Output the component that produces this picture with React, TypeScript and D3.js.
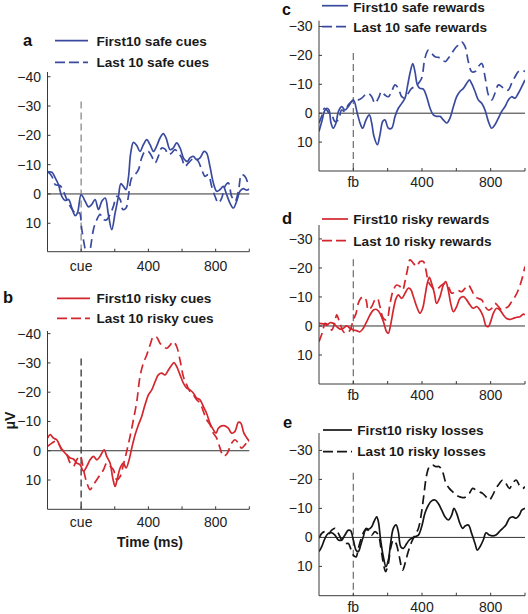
import React from "react";
import * as d3 from "d3";

type Pt = [number, number];

// ---------- data (time in ms, amplitude in µV) ----------
const firstSafeCues: Pt[] = [[-200,-7.5],[-174,-7.4],[-154,-5.5],[-135,-3.2],[-115,0.8],[-95,2.2],[-75,1.9],[-55,4.8],[-36,7.4],[-22,6.5],[0,0.2],[24,2.5],[44,4.4],[63,3.6],[83,1.9],[103,5.3],[123,2.5],[143,1.4],[162,7],[182,12.2],[202,6.5],[222,0.8],[236,-3.5],[251,-2.6],[267,-1.5],[281,-5.5],[295,-14],[311,-17.6],[331,-16.5],[350,-14.5],[370,-16.8],[390,-18.5],[410,-16.8],[430,-14.5],[449,-16.3],[469,-19.1],[489,-20.6],[505,-19.1],[529,-15.1],[548,-15.7],[568,-17.4],[588,-15.7],[612,-11.9],[632,-11.1],[647,-12.3],[667,-12.8],[687,-11.7],[707,-12.3],[731,-14.5],[746,-14],[766,-9.4],[786,-3.8],[806,-0.9],[826,-1.5],[845,-2.6],[865,0.2],[885,3.1],[905,4.8],[925,2.5],[944,-0.9],[964,-1.8],[984,-1.3],[1000,-1.7]];
const lastSafeCues: Pt[] = [[-200,-7.7],[-174,-6],[-154,-3.2],[-125,-2.8],[-105,-0.9],[-85,1.9],[-65,4.2],[-46,5.9],[-26,7],[-10,6.5],[4,12.2],[24,19],[40,24],[57,18],[73,12.2],[93,8.8],[113,7],[133,8.8],[152,8.8],[172,7],[192,4.2],[212,0.8],[232,1.9],[248,5.3],[267,4.8],[281,0.8],[301,-5.5],[321,-6.6],[341,-8.3],[360,-12.3],[380,-14.5],[400,-14.5],[420,-12.8],[440,-10.6],[459,-12.8],[479,-15.7],[499,-15.3],[519,-13.4],[539,-14],[558,-15.1],[578,-14],[598,-12.3],[618,-9.4],[638,-10.6],[657,-11.7],[677,-12.3],[697,-11.1],[717,-8.3],[737,-6],[756,-6.6],[776,-2.6],[796,0.8],[816,3.1],[836,1.4],[855,-2.6],[875,-3.8],[895,0.8],[915,2.5],[935,-0.9],[954,-6.6],[974,-6],[994,-3.2]];

const firstRiskyCues: Pt[] = [[-200,-4.3],[-184,-5.5],[-164,-4.3],[-145,-3.75],[-125,-1.5],[-105,0.2],[-85,1.4],[-65,2.5],[-46,2.8],[-26,4.2],[-6,4.8],[14,7],[34,5.3],[53,3.1],[73,1.9],[93,3.1],[113,1.9],[137,-0.3],[152,1.9],[172,4.2],[188,9.3],[202,12.2],[216,9.3],[232,5.9],[251,4.2],[267,5.9],[283,3.6],[301,-0.9],[321,-5.5],[341,-8.9],[360,-11.7],[380,-15.7],[400,-19.1],[420,-20.8],[440,-23.6],[459,-25.9],[479,-26.5],[499,-25.9],[519,-27.6],[539,-29.3],[552,-30.1],[568,-28.8],[588,-25.9],[608,-23.1],[628,-21.4],[647,-20.8],[667,-19.7],[687,-18],[707,-17.4],[727,-15.1],[746,-12.8],[766,-9.4],[786,-7.2],[802,-6],[816,-7.7],[836,-8.5],[855,-8.5],[875,-7.7],[895,-6],[915,-6.6],[935,-9.7],[950,-9.4],[968,-6],[1000,-3.2]];
const lastRiskyCues: Pt[] = [[-200,-1.5],[-174,-2.6],[-154,-3.2],[-135,-2.6],[-115,-0.3],[-95,0.2],[-65,4.2],[-46,5.3],[-26,3.1],[-6,1.7],[14,6.5],[34,11],[53,13.3],[73,11.6],[93,9.9],[113,8.2],[133,6.5],[152,4.2],[172,5.3],[192,6.5],[212,9.9],[232,8.8],[251,4.8],[271,0.2],[291,-4.9],[311,-10.6],[331,-16.8],[350,-25.3],[370,-29.9],[390,-32.7],[410,-36.1],[430,-39],[449,-38.8],[469,-36.7],[489,-35.6],[509,-35],[529,-36.1],[548,-37.3],[568,-35.6],[588,-31],[608,-25.3],[628,-22.5],[647,-20.2],[667,-19.1],[687,-17.4],[707,-16.3],[727,-13.4],[746,-10.6],[766,-8.9],[786,-6],[806,-4.3],[826,-0.9],[845,1.8],[865,1.2],[895,-2.6],[915,-3.75],[935,-2.6],[954,-0.9],[974,-2],[994,-3.75]];

const firstSafeRewards: Pt[] = [[-200,6.3],[-181,2.3],[-169,-0.6],[-155,-1.7],[-142,-1.1],[-130,3.4],[-117,5.2],[-101,3.4],[-87,-0.6],[-68,-2.3],[-49,-1.1],[-29,-2.3],[0,-4.6],[23,0],[39,3.4],[54,5.2],[74,2.3],[93,0.6],[107,3.4],[120,8],[140,10.9],[155,7.5],[171,2.9],[184,2.3],[204,5.2],[223,5.2],[243,1.1],[262,-1.7],[282,-3.4],[301,-5.2],[315,-9.2],[330,-13.8],[346,-17.2],[359,-14.4],[373,-9.8],[388,-8.6],[408,-8.3],[427,-5.7],[447,-1.7],[466,0.6],[485,1.1],[505,1.1],[524,2.3],[544,3.4],[563,1.7],[583,-2.3],[602,-5.7],[621,-7.5],[641,-8.6],[660,-10.3],[676,-11.5],[689,-10.3],[709,-7.5],[728,-4.6],[748,-3.4],[767,-1.1],[787,2.9],[806,5.2],[825,4],[845,1.7],[864,-0.6],[884,-2.3],[903,-4.6],[922,-5.7],[942,-5.2],[961,-6.9],[981,-9.2],[1000,-11.5]];
const lastSafeRewards: Pt[] = [[-200,3.4],[-181,0.5],[-169,-1.7],[-155,-1.1],[-142,0],[-126,0.6],[-107,2.9],[-87,2.3],[-68,-1.1],[-49,-0.6],[-29,-2.9],[-10,-4],[10,-4.6],[29,-4.6],[49,-5.2],[68,-6.3],[87,-6.9],[107,-5.7],[126,-3.4],[146,-5.2],[165,-7.5],[184,-6.3],[204,-5.7],[223,-7.5],[243,-9.8],[262,-8.6],[282,-5.7],[301,-5.2],[320,-6.9],[340,-8.6],[359,-9.2],[379,-10.3],[398,-12.1],[417,-19],[437,-21.8],[456,-20.7],[476,-19.5],[495,-19.3],[515,-19],[534,-17.8],[553,-19],[573,-20.7],[592,-22.4],[612,-23.6],[631,-24.7],[651,-23],[670,-17.8],[689,-14.4],[709,-14.4],[728,-16.1],[748,-17.2],[767,-12.6],[787,-6.3],[806,-4.6],[825,-6.9],[845,-9.8],[864,-9.2],[884,-8],[903,-8],[922,-10.3],[942,-12.6],[961,-14.4],[981,-14.9],[1000,-14.4]];

const firstRiskyRewards: Pt[] = [[-200,-0.9],[-175,-0.7],[-155,-0.3],[-136,-1.1],[-117,-0.9],[-97,0.2],[-78,1.1],[-58,0.8],[-39,0],[-19,0.8],[0,1.4],[19,1.6],[39,2],[58,0.8],[78,-1.5],[97,-3.8],[117,-5.5],[136,-5.7],[155,-4.4],[175,-1.5],[194,2],[204,2.5],[217,-0.3],[233,-5.5],[249,-9.5],[262,-10.7],[282,-9.5],[301,-11.3],[320,-13],[334,-12.6],[350,-10.1],[369,-6.7],[388,-4.4],[404,-6.1],[417,-10.1],[431,-14.7],[443,-16.8],[456,-14.7],[472,-11.3],[485,-7.8],[505,-10.1],[524,-14.1],[538,-15.3],[553,-12.4],[567,-7.8],[583,-4.9],[602,-6.7],[621,-9.5],[641,-10.1],[660,-9],[680,-7.2],[699,-6.1],[719,-6.7],[738,-5.5],[757,-3.2],[773,0],[787,0.2],[800,-1.5],[816,-4.4],[835,-6.1],[854,-5.5],[874,-3.8],[893,-2.6],[913,-2.3],[932,-2.6],[952,-3],[971,-3.2],[990,-4.1],[1000,-3.8]];
const lastRiskyRewards: Pt[] = [[-200,5.4],[-179,2],[-165,-0.9],[-146,-0.3],[-126,1.4],[-107,-1.5],[-97,-3.8],[-78,-0.9],[-58,2],[-39,2.5],[-19,1.4],[0,-2.1],[16,-4.4],[29,-7.8],[43,-9.5],[58,-10.1],[74,-9],[87,-5.5],[107,-6.7],[126,-9],[140,-9.5],[155,-6.7],[175,-2.6],[194,-2.1],[214,-7.8],[233,-12.4],[252,-14.1],[272,-13.6],[287,-12.4],[301,-15.3],[315,-19.3],[330,-22.8],[350,-21.6],[369,-20.5],[388,-22.2],[408,-22.2],[423,-19.3],[437,-15.3],[456,-13.6],[476,-12.4],[495,-13],[515,-14.1],[534,-14.7],[553,-13.6],[573,-11.3],[592,-11.8],[612,-12.2],[631,-11.8],[651,-13],[670,-14.1],[689,-12.4],[709,-10.1],[728,-9.5],[748,-9],[767,-6.7],[787,-5.5],[806,-6.1],[825,-7.8],[845,-6.7],[864,-5.5],[884,-6.1],[903,-6.7],[922,-8.4],[942,-10.1],[961,-12.4],[981,-15.9],[1000,-20.5]];

const firstRiskyLosses: Pt[] = [[-200,4.9],[-184,3.2],[-165,0.3],[-146,-1.4],[-126,-1.6],[-107,-0.8],[-87,0.9],[-68,0.9],[-49,-0.8],[-29,-2.5],[-16,-2.3],[0,0.9],[16,4.4],[29,4.9],[43,2.6],[58,-0.2],[74,-3.1],[89,-2.8],[107,-3.7],[120,-5.4],[136,-7.1],[146,-5.4],[159,0.9],[175,6.7],[190,10.1],[204,7.8],[217,2.1],[233,-3.1],[249,-4.3],[262,-2],[276,3.2],[291,3.8],[311,2.1],[326,0.9],[340,0.3],[359,-0.2],[379,-0.8],[398,-3.7],[417,-8.3],[437,-11.1],[456,-12.6],[476,-12.9],[495,-11.7],[515,-9.4],[534,-7.1],[553,-6],[573,-7.7],[586,-10],[602,-8.3],[621,-4.8],[637,-3.1],[651,-3.9],[670,-4.3],[689,-1.4],[709,2.1],[722,4.4],[738,3.2],[757,0.9],[773,-1.6],[792,-0.8],[812,-0.5],[831,-0.8],[851,-2],[870,-3.1],[889,-4.3],[909,-6.6],[928,-7.1],[948,-6.6],[967,-7.7],[981,-9.4],[1000,-10]];
const lastRiskyLosses: Pt[] = [[-200,0.3],[-184,-1.4],[-165,-2],[-146,-1.1],[-126,-2.5],[-107,-3.1],[-87,-1.4],[-68,0.9],[-49,2.1],[-29,2.1],[-16,3.8],[0,6.1],[16,6.7],[29,3.8],[49,-0.2],[68,-2.5],[87,-2.5],[107,-0.8],[126,-2],[146,-0.8],[161,3.8],[175,9],[188,11.8],[204,9],[217,3.8],[233,0.9],[249,2.1],[268,6.7],[287,11.3],[301,9],[320,4.9],[340,1.5],[359,-0.8],[379,-3.1],[398,-8.9],[412,-15.2],[427,-21.5],[443,-24.4],[462,-24.9],[482,-24.4],[501,-24.4],[520,-22.6],[540,-18.6],[559,-16.9],[579,-15.7],[598,-14.6],[618,-14],[637,-13.7],[656,-14],[676,-15.2],[695,-16.9],[715,-16.3],[734,-15.7],[753,-15.2],[773,-14],[792,-12.9],[812,-14.6],[831,-16.9],[851,-18.6],[870,-19.8],[889,-18.6],[909,-16.9],[928,-18.6],[948,-19.8],[967,-18],[987,-16.9],[1000,-17.5]];

// ---------- ticks & labels ----------
const xTickValues = [0, 200, 400, 600, 800, 1000];
const xTickLabelsCue = ["cue", "", "400", "", "800", ""];
const xTickLabelsFb = ["fb", "", "400", "", "800", ""];
const yTicksLarge = [-40, -30, -20, -10, 0, 10];
const yTicksSmall = [-30, -20, -10, 0, 10];

const BLUE = "#3a4b9f";
const RED = "#d3262d";
const BLACK = "#151515";

const FONT = "'Liberation Sans', Arial, Helvetica, sans-serif";

interface PanelDef {
  letter: string;
  letterX: number;
  letterY: number;
  letterSize: number;
  x0: number; x1: number;
  yTop: number; yBottom: number;
  vTop: number; vBottom: number;
  yTicks: number[];
  xLabels: string[];
  xLabelDy: number;
  markerTop: number;
  markerColor: string;
  color: string;
  first: Pt[];
  last: Pt[];
  firstLabel: string;
  lastLabel: string;
  legX0: number; legX1: number; legTextX: number;
  leg1Y: number; leg2Y: number;
  leg1Base: number; leg2Base: number;
}

const panels: PanelDef[] = [
  {
    letter: "a", letterX: 23, letterY: 46, letterSize: 16.5,
    x0: 47.5, x1: 249.3, yTop: 72, yBottom: 251.7, vTop: -41.6, vBottom: 19.7,
    yTicks: yTicksLarge, xLabels: xTickLabelsCue, xLabelDy: 19,
    markerTop: -31.5, markerColor: "#8a8a8a",
    color: BLUE, first: firstSafeCues, last: lastSafeCues,
    firstLabel: "First10 safe cues", lastLabel: "Last 10 safe cues",
    legX0: 55, legX1: 88, legTextX: 96.5, leg1Y: 40.7, leg2Y: 62.3, leg1Base: 45.5, leg2Base: 67,
  },
  {
    letter: "b", letterX: 3, letterY: 303, letterSize: 16.5,
    x0: 47.5, x1: 249.3, yTop: 331, yBottom: 509.3, vTop: -40.9, vBottom: 20,
    yTicks: yTicksLarge, xLabels: xTickLabelsCue, xLabelDy: 17.5,
    markerTop: -31.5, markerColor: "#333",
    color: RED, first: firstRiskyCues, last: lastRiskyCues,
    firstLabel: "First10 risky cues", lastLabel: "Last 10 risky cues",
    legX0: 57, legX1: 90, legTextX: 96.5, leg1Y: 298.3, leg2Y: 318.3, leg1Base: 302.7, leg2Base: 322.7,
  },
  {
    letter: "c", letterX: 282, letterY: 14.5, letterSize: 16,
    x0: 319, x1: 525, yTop: 20.7, yBottom: 171, vTop: -32, vBottom: 20,
    yTicks: yTicksSmall, xLabels: xTickLabelsFb, xLabelDy: 16,
    markerTop: -20.8, markerColor: "#777",
    color: BLUE, first: firstSafeRewards, last: lastSafeRewards,
    firstLabel: "First10 safe rewards", lastLabel: "Last 10 safe rewards",
    legX0: 322, legX1: 348, legTextX: 353.3, leg1Y: 5.7, leg2Y: 26.7, leg1Base: 11.5, leg2Base: 32.3,
  },
  {
    letter: "d", letterX: 282, letterY: 224, letterSize: 16.5,
    x0: 319, x1: 525, yTop: 225, yBottom: 384, vTop: -34.8, vBottom: 20,
    yTicks: yTicksSmall, xLabels: xTickLabelsFb, xLabelDy: 16,
    markerTop: -23, markerColor: "#777",
    color: RED, first: firstRiskyRewards, last: lastRiskyRewards,
    firstLabel: "First10 risky rewards", lastLabel: "Last 10 risky rewards",
    legX0: 322, legX1: 348, legTextX: 353.3, leg1Y: 219, leg2Y: 240.7, leg1Base: 224, leg2Base: 245.7,
  },
  {
    letter: "e", letterX: 283, letterY: 427.5, letterSize: 16.5,
    x0: 319, x1: 525, yTop: 433, yBottom: 595.7, vTop: -36, vBottom: 20.1,
    yTicks: yTicksSmall, xLabels: xTickLabelsFb, xLabelDy: 16,
    markerTop: -22.3, markerColor: "#777",
    color: BLACK, first: firstRiskyLosses, last: lastRiskyLosses,
    firstLabel: "First10 risky losses", lastLabel: "Last 10 risky losses",
    legX0: 323, legX1: 352, legTextX: 357.3, leg1Y: 430, leg2Y: 451.7, leg1Base: 435, leg2Base: 456,
  },
];

const fmt = (v: number) => (v < 0 ? "\u2212" + Math.abs(v) : String(v));

function Panel({ p, idx }: { p: PanelDef; idx: number }) {
  const x = d3.scaleLinear().domain([-200, 1000]).range([p.x0, p.x1]);
  const y = d3.scaleLinear().domain([p.vTop, p.vBottom]).range([p.yTop, p.yBottom]);
  const line = d3
    .line<Pt>()
    .x((d) => x(d[0]))
    .y((d) => y(d[1]))
    .curve(d3.curveCatmullRom.alpha(0.5));
  const clipId = `clip-${idx}`;
  const axisColor = "#3a3a3a";
  return (
    <g>
      <defs>
        <clipPath id={clipId}>
          <rect x={p.x0} y={p.yTop - 2} width={p.x1 - p.x0} height={p.yBottom - p.yTop + 2} />
        </clipPath>
      </defs>
      <text x={p.letterX} y={p.letterY} fontFamily={FONT} fontWeight="bold" fontSize={p.letterSize} fill="#111">
        {p.letter}
      </text>
      <line x1={p.x0} x2={p.x1} y1={y(0)} y2={y(0)} stroke="#333" strokeWidth={1} />
      <line
        x1={x(0)} x2={x(0)} y1={y(p.markerTop)} y2={p.yBottom}
        stroke={p.markerColor} strokeWidth={1.3} strokeDasharray="7,4"
      />
      <g clipPath={`url(#${clipId})`}>
        <path d={line(p.first) || ""} fill="none" stroke={p.color} strokeWidth={1.7} strokeLinejoin="round" />
        <path d={line(p.last) || ""} fill="none" stroke={p.color} strokeWidth={1.7} strokeDasharray="9,5" strokeLinejoin="round" />
      </g>
      <line x1={p.x0} x2={p.x0} y1={p.yTop} y2={p.yBottom} stroke={axisColor} strokeWidth={1} />
      <line x1={p.x0} x2={p.x1} y1={p.yBottom} y2={p.yBottom} stroke={axisColor} strokeWidth={1} />
      {xTickValues.map((t, i) => (
        <g key={"xt" + t}>
          <line x1={x(t)} x2={x(t)} y1={p.yBottom} y2={p.yBottom - 3} stroke={axisColor} strokeWidth={1} />
          {p.xLabels[i] ? (
            <text x={x(t)} y={p.yBottom + p.xLabelDy} textAnchor="middle" fontFamily={FONT} fontSize={14} fill="#222">
              {p.xLabels[i]}
            </text>
          ) : null}
        </g>
      ))}
      {p.yTicks.map((t) => (
        <g key={"yt" + t}>
          <line x1={p.x0} x2={p.x0 + 3} y1={y(t)} y2={y(t)} stroke={axisColor} strokeWidth={1} />
          <text x={p.x0 - 6.5} y={y(t) + 5} textAnchor="end" fontFamily={FONT} fontSize={14} fill="#222">
            {fmt(t)}
          </text>
        </g>
      ))}
      <line x1={p.legX0} x2={p.legX1} y1={p.leg1Y} y2={p.leg1Y} stroke={p.color} strokeWidth={1.7} />
      <line x1={p.legX0} x2={p.legX1} y1={p.leg2Y} y2={p.leg2Y} stroke={p.color} strokeWidth={1.7} strokeDasharray="10,4" />
      <text x={p.legTextX} y={p.leg1Base} fontFamily={FONT} fontWeight="bold" fontSize={13.6} fill="#1a1a1a">
        {p.firstLabel}
      </text>
      <text x={p.legTextX} y={p.leg2Base} fontFamily={FONT} fontWeight="bold" fontSize={13.6} fill="#1a1a1a">
        {p.lastLabel}
      </text>
    </g>
  );
}

export default function App() {
  return (
    <svg
      width={528}
      height={614}
      viewBox="0 0 528 614"
      style={{ position: "absolute", left: 0, top: 0, background: "#fff" }}
    >
      <rect x={0} y={0} width={528} height={614} fill="#fff" />
      {panels.map((p, i) => (
        <Panel key={p.letter} p={p} idx={i} />
      ))}
      <text x={150} y={546.5} textAnchor="middle" fontFamily={FONT} fontWeight="bold" fontSize={14} fill="#1a1a1a">
        Time (ms)
      </text>
      <text
        transform="translate(15,420.5) rotate(-90)"
        textAnchor="middle"
        fontFamily={FONT}
        fontWeight="bold"
        fontSize={14}
        fill="#1a1a1a"
      >
        μV
      </text>
    </svg>
  );
}
